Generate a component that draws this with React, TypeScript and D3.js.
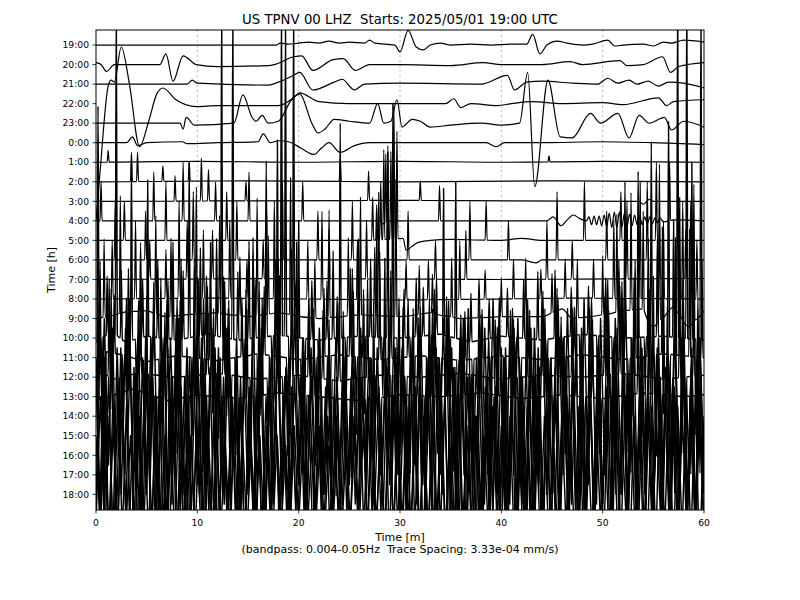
import React from "react";
import * as d3 from "d3";

// one-hour lines of the helicorder, top to bottom
const hours = ["19:00","20:00","21:00","22:00","23:00","0:00","1:00","2:00","3:00","4:00","5:00","6:00",
  "7:00","8:00","9:00","10:00","11:00","12:00","13:00","14:00","15:00","16:00","17:00","18:00"];
const xTicks = [0, 10, 20, 30, 40, 50, 60];

// slow part of each trace: [minute, offset in trace spacings]
const h19 = [[0,0],[17.8,0],[18.2,0.1],[19,0.05],[20,0.1],[21,0.15],[22,0.1],[23,0.2],[24,0.1],[25,0.15],[26.5,0.1],[27,0.25],[27.5,0.1],[29.5,0],[30,-0.35],[30.8,0.75],[31.6,-0.1],[32.3,-0.25],[33,0],[34,0.1],[35,0],[37,0.05],[39,0],[41,0.05],[42.5,0.05],[43.1,0.55],[43.8,-0.45],[44.5,0],[45.5,0.2],[46.5,0.1],[48,0],[49,0.05],[50.5,0.25],[51.2,-0.05],[52,0],[54,0.05],[55,-0.05],[56,0.15],[56.8,0.1],[58,0.25],[60,0.15]];
const h20 = [[0,0.1],[0.5,0],[1.05,-0.35],[1.8,0],[6.3,0],[6.9,0.55],[7.6,-0.85],[8.6,0.45],[9.9,0],[12,-0.1],[17,-0.05],[17.6,0],[19.5,0.4],[20.3,0.45],[21.4,-0.3],[23.4,0.25],[24.4,0.3],[25.6,-0.3],[27,0],[30,0],[35,-0.05],[38.2,0.1],[40,0],[44,0],[46.8,0.15],[48,0],[51.7,0.2],[52.4,-0.05],[54,0],[55.9,0.4],[56.7,-0.4],[57.5,-0.1],[60,0.1]];
const h21 = [[0,0],[9,0],[9.5,0.2],[10,0.05],[17,-0.05],[18,0.1],[19.5,0.45],[20.1,0.6],[21.4,-0.3],[23.5,0.1],[24.3,0.25],[25.5,-0.3],[26.5,0],[30,0.05],[38,0],[40.6,0.45],[41.3,-0.3],[42.5,0.1],[44,0.15],[47,0.05],[49.5,0],[50.5,0.3],[51.5,0.05],[52.6,0.2],[53.4,0],[54.5,0.15],[55.5,-0.1],[56.5,0.1],[58,0.05],[60,-0.2]];
const h22 = [[0,-6],[0.4,-3.5],[1.2,0.9],[1.5,1.2],[1.8,1.1],[2.5,2.9],[3.3,1.0],[4.3,-2.2],[5.2,-0.9],[6.0,0.5],[6.6,0.8],[7.9,0.2],[9.9,-0.15],[12,-0.1],[15,-0.1],[18,-0.1],[19.5,0.3],[20.1,0.55],[22,0.1],[25,0],[30,0],[34.5,0],[35.3,0.25],[36,-0.2],[37,0],[39.6,-0.1],[41,0],[43,0.1],[46,0],[50,0.05],[52,-0.05],[55.5,0.3],[56.3,-0.1],[57,0.1],[60,0.2]];
const h23 = [[0,0],[8.3,0],[8.6,-0.3],[8.9,0.3],[9.7,-0.1],[13.6,0],[14.5,1.45],[15.4,0.3],[15.8,0.1],[16.4,0.4],[17,0],[18,0.1],[19.3,1.2],[20.1,1.5],[21.3,0],[21.9,-0.5],[22.6,-0.3],[23.5,0.2],[25,0.1],[27,0],[27.8,1.0],[28.4,0],[29.1,0.1],[29.7,1.2],[30.2,-0.2],[31.2,0.2],[32,0.1],[33,-0.2],[35,-0.1],[38,0],[40,-0.1],[41.8,0],[42.6,2.6],[43.3,-3.25],[44.6,2.2],[45.8,-0.7],[47,-0.75],[48.8,0.5],[49.8,0],[51.5,0.5],[52.6,-0.75],[53.6,0.4],[54.6,0],[56.1,0.3],[56.8,-0.35],[58,0.1],[60,-0.2]];
const h00 = [[0,0],[3,0],[3.6,0.3],[4.1,-0.15],[5,0],[8.5,0.05],[9,-0.05],[12,0],[16,0.05],[16.5,0.45],[17.2,0],[18,0.1],[19,0.05],[20.3,-0.3],[21.5,-0.6],[22.2,-0.3],[23,0],[24.1,-0.5],[25.5,-0.15],[27,0],[30,0],[35,0],[38.5,0],[39.5,-0.2],[40.3,0],[44,0],[50,0.05],[55,0],[60,-0.1]];
const h01 = [[0,0],[10,0.05],[20,0],[30,0.05],[40,0],[50,0.05],[60,0]];
const h02 = [[0,0],[15,0.05],[30,0],[45,0.05],[60,0]];
const h03 = [[0,0],[30,0.05],[53.6,0],[54,-0.15],[54.6,0.1],[55,0],[60,0]];
const h04 = [[0,0],[28,0],[28.3,-0.15],[29,0],[40,0],[44.5,0],[45.1,0.2],[45.9,-0.25],[46.5,0.05],[47.1,0.3],[47.8,0.1],[48.4,0],[48.65,0.2],[48.9,-0.2],[49.15,0.25],[49.4,-0.2],[49.65,0.25],[49.9,-0.25],[50.15,0.3],[50.4,-0.3],[50.65,0.4],[50.9,-0.35],[51.15,0.45],[51.4,-0.35],[51.65,0.45],[51.9,-0.3],[52.15,0.4],[52.4,-0.3],[52.65,0.35],[52.9,-0.25],[53.15,0.3],[53.4,-0.2],[53.65,0.25],[53.9,-0.2],[54.15,0.2],[54.4,-0.15],[54.65,0.2],[54.9,-0.15],[55.15,0.15],[55.4,-0.1],[55.65,0.15],[56,-0.05],[57,0.05],[60,0]];
const h05 = [[0,0],[27,0],[30.3,0.1],[30.6,-0.5],[31.2,-0.3],[31.8,-0.1],[33,0],[35,0.05],[40,0],[42,0.1],[44,0],[60,0]];
const h06 = [[0,0],[42,0],[43.4,-0.15],[44,0],[60,0]];
const h07 = [[0,0],[20,0.05],[40,0],[60,0.05]];
const h08 = [[0,0],[12,0.05],[30,-0.05],[48,0.05],[60,0]];
const h09 = [[0,0],[1,0.1],[3,0.35],[5,0.4],[7,0.1],[9,0.2],[12,0.3],[15,0.1],[18,0.3],[22,0],[26,0.2],[30,0.1],[33,0.3],[36,0],[40,0.1],[44,0.1],[46,0.5],[47,0],[50,0.2],[52,0.4],[54,0.5],[55,-0.4],[57,0.6],[58.5,-0.4],[60,0.4]];
const h10 = [[0,-0.2],[1.6,0.35],[2.9,-0.2],[5,0.1],[8,-0.1],[11,0.2],[14,-0.1],[18,0.15],[22,-0.1],[26,0.1],[30,0],[34,0.2],[37,-0.2],[40,0.1],[44,-0.1],[48,0.2],[52,0],[56,0.1],[60,-0.1]];
const h11 = [[0,-0.3],[1,0.3],[3,0.1],[5,-0.2],[8,0.1],[12,-0.15],[16,0.2],[20,-0.1],[24,0.15],[28,-0.1],[32,0.1],[36,-0.15],[40,0.1],[44,-0.1],[48,0.15],[52,-0.1],[56,0.2],[60,0]];
const h12 = [[0,0.3],[2,-0.1],[4,0.2],[8,0],[12,0.2],[16,-0.1],[20,0.1],[24,-0.2],[28,0.1],[32,0],[36,0.2],[40,-0.1],[44,0.1],[48,0],[52,0.2],[56,-0.1],[60,0.1]];
const h13 = [[0,-0.2],[3.7,0.4],[7,-0.2],[10,0.1],[14,-0.1],[18,0.2],[22,0],[26,-0.2],[30,0.1],[34,0],[38,0.2],[42,-0.1],[46,0.1],[50,-0.1],[54,0.2],[58,0],[60,0.1]];
const flat = [[0,0],[60,0]];

// short spikes: [minute, peak offset in trace spacings]
const s01 = [[1.2,0.6],[44.7,0.3]];
const s02 = [[3.5,1.5],[4.1,1.5],[6.6,0.8],[9.2,1.0],[24.1,1.2]];
const s03 = [[7.8,1.3],[10.4,2.2],[11.1,1.6],[14.8,1.0],[26.9,1.5],[32.0,1.0]];
const s04 = [[0.5,2],[5.7,2.5],[8.6,3],[11.8,2],[15.1,2.5],[20.4,2],[28.6,3.5],[33.9,1.8],[56.6,3]];
const s05 = [[2.8,2],[6.9,3],[12.9,2.5],[16.8,2],[27.3,2.2],[27.7,1.8],[28.1,3.0],[28.4,4.6],[28.8,4.8],[29.1,4.5],[29.4,6.8],[29.7,5.5],[38.5,2],[48.2,3],[51.8,2.5],[55.3,4]];
const s06 = [[1.9,3],[4.9,2.5],[9.6,3.5],[13.9,3],[18.4,4],[21.9,2.5],[25.3,3],[30.8,2.5],[36.9,3],[40.7,2],[45.5,3.5],[50.4,2.5],[54.4,4],[58.7,3]];
const s07 = [[5.3,2],[9.0,3],[11.5,2.5],[16.5,2],[19.7,-1.5],[23,2.5],[26.7,3],[33.5,2],[36.5,2.5],[44.5,3],[47,2],[52.4,4],[55.6,3],[58.2,2.5]];
const s08 = [[1.6,3],[3.9,4],[6.9,2.5],[8.2,5],[10.6,3.5],[13.2,4],[14.9,2],[17.6,5],[20.9,3],[22.3,4.5],[25.8,3],[27.9,5.5],[30.6,2],[32.8,2],[35.9,3],[38.4,1.5],[41.2,2],[43.9,1.5],[46.3,2],[49.1,2],[51.1,4],[53.7,6],[56.0,4],[57.9,5],[59.3,3]];
const s09 = [[0.8,4],[2.4,6],[3.1,-2],[4.4,3.5],[5.9,5],[7.4,4],[9.9,6.5],[11.0,-2],[12.2,5],[14.2,3],[15.9,6],[17.0,4],[19.2,7],[21.6,3],[23.0,5.5],[24.9,4],[26.1,6],[27.5,3.5],[29.6,7],[31.9,2.5],[33.2,2],[35.1,3],[37.8,2],[40.0,2],[42.4,3],[45.0,2],[47.5,3],[50.0,3],[51.4,5],[52.8,6],[54.0,5],[55.6,8],[57.6,6],[59.0,7]];
const s10 = [[0.2,12],[0.6,-3],[1.1,3],[1.6,-4],[2.0,17],[2.5,3.5],[3.0,-3],[3.5,9],[4.0,-4],[4.6,3],[5.1,8],[5.5,-3],[6.1,4],[6.6,-3],[7.1,3],[7.6,5],[8.1,-4],[8.6,3.5],[9.2,9],[9.8,-3],[10.3,4.5],[10.9,3],[11.5,-4],[11.9,5],[12.4,17],[12.9,-4],[13.5,17],[14.0,3.5],[14.6,-3],[15.1,5],[15.7,3],[16.2,-4],[16.8,9],[17.4,-3],[17.9,10],[18.3,17],[18.7,16],[19.1,-5],[19.5,17],[20.0,6],[20.6,-4],[21.3,3],[22.0,-3],[22.8,3],[23.4,4.5],[24.1,11],[24.7,-3],[25.3,3.5],[25.9,5],[26.5,-4],[27.1,4],[27.7,5.5],[28.3,-3],[28.8,9.5],[29.3,12],[29.8,-4],[30.4,2.5],[31.1,-3],[31.6,3],[32.3,2.5],[33.0,-3],[33.6,3],[34.3,7.5],[34.9,-4],[35.5,8],[36.2,-3],[37.0,2.5],[38.0,-3],[38.8,2],[39.7,-3],[40.6,2.5],[41.4,-3],[42.2,3],[42.9,-3],[43.6,3.5],[44.5,-3],[45.3,3.5],[46.1,-3],[46.9,2.5],[47.8,-3],[48.6,2.5],[49.5,-3],[50.3,3],[51.0,-3],[51.6,4],[52.2,8],[52.9,-4],[53.5,8.5],[54.2,-3],[54.8,10],[55.4,5],[56.0,-4],[56.5,11],[57.0,6],[57.4,18],[57.9,-4],[58.3,18],[58.8,9],[59.3,-5],[59.7,17]];
const s11 = [[0.4,5],[0.9,-5],[1.8,3],[2.7,-4],[3.2,4.5],[4.2,3],[4.8,-5],[5.7,4],[6.3,-4],[7.0,3],[7.9,-5],[8.4,5],[9.5,-4],[10.1,4],[10.7,-5],[11.3,6],[12.1,-4],[12.7,4],[13.8,-5],[14.4,3],[15.5,6],[16.0,-5],[16.6,3.5],[17.2,-4],[18.0,5],[18.9,-5],[19.8,6],[20.3,-4],[21.0,3],[21.7,-4],[22.5,3.5],[23.1,-4],[23.8,3],[24.5,-5],[25.1,4.5],[25.7,-4],[26.4,3.5],[27.3,-5],[28.0,5.5],[28.6,-4],[29.1,4.5],[30.1,-5],[30.8,3],[31.4,-4],[32.0,2.5],[32.7,-5],[33.4,3.5],[34.0,-4],[34.8,3],[35.7,-5],[36.4,2.5],[37.2,-4],[38.1,2.5],[39.0,-5],[39.8,3],[40.3,-4],[41.1,2.5],[41.9,-4],[42.6,3],[43.3,-5],[44.1,3.5],[44.8,-4],[45.6,3],[46.4,-5],[47.2,2.5],[48.0,-4],[48.9,3],[49.7,-5],[50.5,4],[51.2,-4],[51.9,4],[52.6,-5],[53.2,5],[53.9,-4],[54.5,6],[55.2,-5],[55.9,6.5],[56.6,-4],[57.2,6],[57.8,-5],[58.6,6.5],[59.2,-4],[59.8,5]];
const s12 = [[0.7,-5],[1.3,5],[2.2,-4],[3.0,4],[3.8,-5],[4.4,4.5],[5.3,-4],[6.4,5],[7.3,-5],[8.0,4],[8.9,-4],[9.7,6],[10.5,-5],[11.0,4.5],[11.8,-4],[12.6,5],[13.3,-5],[14.8,4.5],[15.3,-4],[16.1,5],[17.0,-5],[17.7,6],[18.5,-4],[19.3,6.5],[20.4,-5],[21.0,4],[21.8,-4],[22.4,3.5],[23.2,-5],[24.0,4],[24.6,-4],[25.4,4.5],[26.0,-5],[26.8,5],[27.5,-4],[28.5,6],[29.2,-5],[29.9,4],[30.6,-4],[31.3,3.5],[32.1,-5],[32.9,4],[33.7,-4],[34.6,4],[35.3,-5],[36.0,3],[36.9,-4],[37.8,3.5],[38.6,-5],[39.4,3],[40.1,-4],[40.9,3.5],[41.7,-5],[42.5,4],[43.2,-4],[44.0,4],[44.7,-5],[45.5,4.5],[46.3,-4],[47.0,3.5],[47.9,-5],[48.7,3.5],[49.5,-4],[50.2,4],[50.9,-5],[51.7,4.5],[52.4,-4],[53.1,5],[53.8,-5],[54.6,4.5],[55.3,-4],[56.0,5],[56.8,-5],[57.6,6],[58.2,-4],[59.0,5],[59.6,-5]];
const s13 = [[0.2,5],[0.8,-5],[1.5,5.5],[2.4,-4],[3.3,4.5],[4.1,-5],[5.0,5],[5.9,-4],[6.8,4.5],[7.5,-5],[8.3,5],[9.1,-4],[10.0,6],[10.8,-5],[11.6,4.5],[12.3,-4],[13.1,5],[14.0,-5],[14.9,4.5],[15.7,-4],[16.4,5],[17.3,-5],[18.1,6],[19.0,-4],[19.9,5],[20.7,-5],[21.5,4.5],[22.2,-4],[23.0,4],[23.7,-5],[24.4,4.5],[25.2,-4],[26.0,4.5],[26.7,-5],[27.4,5],[28.1,-4],[28.9,4.5],[29.6,-5],[30.3,4.5],[31.0,-4],[31.8,4],[32.5,-5],[33.2,4.5],[34.0,-4],[34.7,4],[35.5,-5],[36.3,3.5],[37.2,-4],[38.0,4],[38.9,-5],[39.6,3.5],[40.4,-4],[41.2,4],[42.0,-5],[42.8,4.5],[43.6,-4],[44.3,4.5],[45.1,-5],[45.9,4],[46.6,-4],[47.4,4.5],[48.2,-5],[49.0,4],[49.8,-4],[50.6,4.5],[51.3,-5],[52.0,5],[52.8,-4],[53.5,5],[54.3,-5],[55.0,6],[55.8,-4],[56.4,5],[57.1,-5],[57.9,6],[58.7,-4],[59.4,5]];

// continuous strong noise of the last hours, evenly spaced over the hour
const z14 = [3,-4.5,5,-2.5,4.5,-5,3.5,-3,6,-4,2.5,-5.5,4,-3.5,5.5,-4.5,3,-6,4,-3,5,-4,3.5,-5,2.5,-4,6,-3.5,4.5,-5,3,-4.5,5.5,-2.5,4,-5.5,3.5,-3,5,-4,4.5,-6,3,-3.5,5,-4.5,2.5,-4,5.5,-3,4,-5,3.5,-2.5,4.5,-4,3,-3.5,4,-3,2.5,-4,3.5,-3,4.5,-2.5,3,-4.5,3.5,-3,2.5,-3.5,4,-3,3.5,-4.5,3,-2.5,4,-3.5,3,-4,4.5,-3,5,-4.5,3.5,-5,4,-3,5.5,-4,3,-5,4.5,-3.5,6,-4,3.5,-5.5,4,-3,5,-4.5,3,-6,4.5,-3.5,5.5,-4,3,-5,4,-3,5.5,-4.5,3.5,-5,6,-3.5,4,-4.5,5,-3,3.5,-5.5,4.5,-4,6,-3,4,-5,3.5,-4.5,5.5,-3,4,-5.5,3,-4,5,-3.5,6,-4.5,3.5,-5,4,-3];
const z15 = [-3.5,5,-4,3,-5.5,4.5,-3,5.5,-4.5,3.5,-6,4,-3,5,-4.5,2.5,-5,4.5,-3.5,6,-4,3,-5.5,4,-2.5,5,-4.5,3.5,-5,4.5,-3,5.5,-4,3,-4.5,3.5,-3,4,-5,3.5,-4,2.5,-3.5,4.5,-3,3.5,-4.5,3,-2.5,4,-3.5,3,-4,4.5,-3,3.5,-4,3,-3.5,4,-2.5,3.5,-4.5,3,-3,4,-3.5,2.5,-4,3.5,-3,4.5,-4,3,-5,4.5,-3.5,5,-4,3.5,-5.5,4,-3,5,-4.5,3.5,-5,6,-4,3,-5.5,4.5,-3.5,5,-4,3,-6,4.5,-3.5,5.5,-4,3,-5,5.5,-4,3.5,-5,4,-3,6,-4.5,3.5,-5,4,-3.5,5.5,-4,3,-5,4.5,-3.5,5,-4.5,6,-3,4,-5.5,3.5,-4,5,-3,5.5,-4.5,4,-5,3,-4,6,-3.5,4.5,-5,3.5,-4.5,5,-3];
const z16 = [4,-3.5,5,-4.5,3,-5.5,4.5,-3,5,-4,6,-3.5,4,-5,3,-4.5,5.5,-3,4,-6,3.5,-4,5,-3,4.5,-5,3,-4,5.5,-3.5,4,-4.5,3,-3.5,4,-5,3.5,-3,4.5,-4,3,-3.5,4.5,-3,2.5,-4,3.5,-3,4,-3.5,3,-4.5,4,-3,3.5,-4,3,-3.5,4.5,-3,4,-2.5,3.5,-4,3,-3.5,4,-3,3.5,-4.5,3,-4,4.5,-3.5,5,-4,3.5,-5,4.5,-3,5.5,-4,3,-5,4.5,-3.5,6,-4,3,-5,5,-3.5,4,-5.5,3.5,-4,5,-3,6,-4.5,3.5,-5,4,-3.5,5.5,-4,3,-5,4.5,-4,6,-3.5,4,-5,3.5,-4.5,5,-3,5.5,-4,3.5,-5.5,4.5,-3,5,-4.5,6,-3.5,4,-5,3,-4,5.5,-3.5,4.5,-5,3.5,-4,6,-3,4.5,-5.5,3.5,-4];
const z17 = [-2.5,4,-3.5,3,-4,4.5,-3,3.5,-4.5,3,-2.5,4,-3.5,5,-3,4,-4,3,-3.5,4.5,-3,3.5,-4,2.5,-3,4,-3.5,3,-4.5,3.5,-2.5,4,-3,3.5,-4,3,-2.5,3,-3.5,2.5,-3,3.5,-2.5,3,-3,2.5,-3.5,3,-2.5,3.5,-3,2.5,-3.5,3,-2.5,3,-3,2.5,-3.5,3,-2.5,4,-3,3.5,-4,3,-3.5,4.5,-3,4,-4,3.5,-3,4.5,-3.5,3,-4,5,-3,4,-4.5,3.5,-3,4,-3.5,5,-4,3,-3.5,4.5,-3,4,-4,3.5,-3,5,-4,3,-3.5,4.5,-3,4,-4.5,3.5,-3,4,-3.5,4.5,-3,5,-4,3,-3.5,4.5,-2.5,4,-4,3.5,-3,5,-3.5,4,-4.5,3,-3,4.5,-4,3.5,-3.5,5,-3,4,-4,3.5,-3,4.5,-3.5,4,-4.5,3];
const z18 = [3,-2,4,-2.5,3.5,-2,4.5,-1.5,3,-2.5,4,-2,3.5,-1.5,5,-2,3,-2.5,4,-2,3.5,-1.5,3,-2,4,-2.5,3.5,-2,3,-1.5,2.5,-2,3.5,-1.5,3,-2,2.5,-1.5,3,-2,2.5,-2,3,-1.5,2.5,-2,3.5,-1.5,3,-2,2.5,-1.5,3,-2,2.5,-1.5,3,-2,2.5,-1.5,3,-2,3.5,-2,4,-1.5,3,-2.5,4,-2,3.5,-1.5,4.5,-2,3,-2.5,4,-2,3.5,-1.5,4,-2,3,-2.5,4.5,-2,3.5,-1.5,4,-2.5,3,-2,4.5,-1.5,3.5,-2,4,-2.5,3,-2,4.5,-1.5,3.5,-2,4,-2.5,3.5,-2,4,-1.5,3,-2.5,4.5,-2,3.5,-2,4,-1.5,3.5,-2.5,4,-2,3,-1.5,4.5,-2,3.5,-2.5,4,-2,3.5,-1.5,4.5,-2,3,-2.5,4,-2,3.5,-1.5,4,-2];

const waves = [h19,h20,h21,h22,h23,h00,h01,h02,h03,h04,h05,h06,h07,h08,h09,h10,h11,h12,h13,flat,flat,flat,flat,flat];
const spikes = [[],[],[],[],[],[],s01,s02,s03,s04,s05,s06,s07,s08,s09,s10,s11,s12,s13,[],[],[],[],[]];
const noise = [null,null,null,null,null,null,null,null,null,null,null,null,null,null,null,null,null,null,null,z14,z15,z16,z17,z18];

const W = 800, H = 600;
const X0 = 96, X1 = 704, Y0 = 30, Y1 = 510;
const HW = 0.1;

export default function App() {
  const x = d3.scaleLinear().domain([0, 60]).range([X0, X1]);
  const y = d3.scaleLinear().domain([-0.77, 23.8]).range([Y0, Y1]);

  const paths = hours.map((h, i) => {
    const w = waves[i];
    const base = d3.scaleLinear().domain(w.map(d => d[0])).range(w.map(d => d[1])).clamp(true);
    const sp = spikes[i];
    const z = noise[i];
    let pts: number[][] = [];
    if (z) {
      z.forEach((v, k) => {
        const m = (k * 60) / (z.length - 1);
        pts.push([m, base(m) + v]);
      });
    } else {
      pts = w.filter(d => !sp.some(s => Math.abs(s[0] - d[0]) < HW + 0.02)).map(d => [d[0], d[1]]);
      sp.forEach(([m, a]) => {
        pts.push([m - HW, base(m - HW)], [m, base(m) + a], [m + HW, base(m + HW)]);
      });
    }
    pts.sort((a, b) => a[0] - b[0]);
    pts = pts.filter((p, k) => k === 0 || p[0] - pts[k - 1][0] > 1e-6);
    const line = d3.line<number[]>()
      .x(d => x(d[0]))
      .y(d => y(i - d[1]))
      .curve(z ? d3.curveLinear : d3.curveMonotoneX);
    return line(pts);
  });

  const font = "DejaVu Sans, sans-serif";
  return (
    <svg width={W} height={H} style={{ display: "block", position: "absolute", left: 0, top: 0 }}>
      <rect x={0} y={0} width={W} height={H} fill="#fff" />
      <defs>
        <clipPath id="plot">
          <rect x={X0} y={Y0} width={X1 - X0} height={Y1 - Y0} />
        </clipPath>
      </defs>
      {xTicks.slice(1, -1).map(t => (
        <line key={t} x1={x(t)} x2={x(t)} y1={Y0} y2={Y1} stroke="#b0b0b0" strokeWidth={0.8} strokeDasharray="2.5,2.5" />
      ))}
      <g clipPath="url(#plot)">
        {paths.map((d, i) => (
          <path key={i} d={d || ""} fill="none" stroke="#000" strokeWidth={i >= 15 ? 1.45 : 1.2} strokeLinejoin="round" />
        ))}
      </g>
      <rect x={X0} y={Y0} width={X1 - X0} height={Y1 - Y0} fill="none" stroke="#000" strokeWidth={1} />
      {hours.map((h, i) => (
        <g key={h}>
          <line x1={X0 - 3.5} x2={X0} y1={y(i)} y2={y(i)} stroke="#000" strokeWidth={0.8} />
          <text x={X0 - 7} y={y(i)} dy="0.35em" textAnchor="end" fontFamily={font} fontSize={9.2}>{h}</text>
        </g>
      ))}
      {xTicks.map(t => (
        <g key={t}>
          <line x1={x(t)} x2={x(t)} y1={Y1} y2={Y1 + 3.5} stroke="#000" strokeWidth={0.8} />
          <text x={x(t)} y={Y1 + 15.5} textAnchor="middle" fontFamily={font} fontSize={9.2}>{t}</text>
        </g>
      ))}
      <text x={400} y={24} textAnchor="middle" fontFamily={font} fontSize={13.3} xmlSpace="preserve" style={{ whiteSpace: "pre" }}>US TPNV 00 LHZ  Starts: 2025/05/01 19:00 UTC</text>
      <text x={400} y={541} textAnchor="middle" fontFamily={font} fontSize={11}>Time [m]</text>
      <text x={400} y={553} textAnchor="middle" fontFamily={font} fontSize={11} xmlSpace="preserve" style={{ whiteSpace: "pre" }}>(bandpass: 0.004-0.05Hz  Trace Spacing: 3.33e-04 mm/s)</text>
      <text transform={`translate(54.5,${(Y0 + Y1) / 2}) rotate(-90)`} textAnchor="middle" fontFamily={font} fontSize={11}>Time [h]</text>
    </svg>
  );
}
